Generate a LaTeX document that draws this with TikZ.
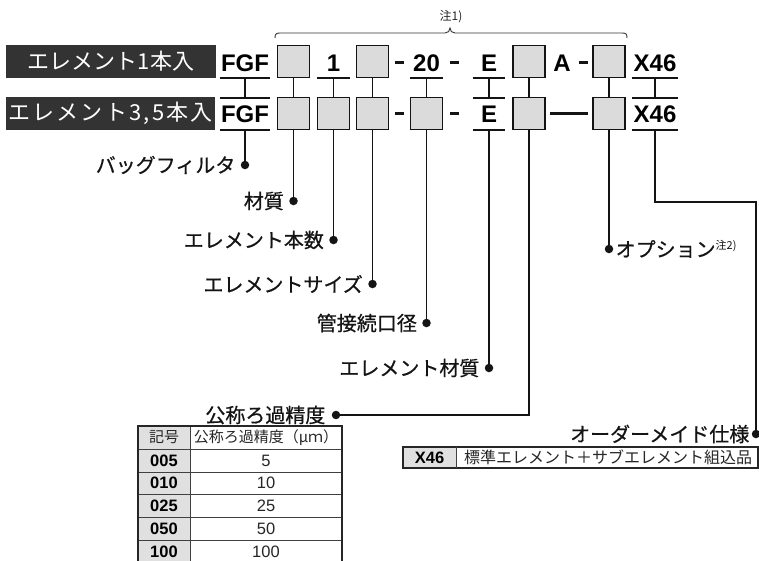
\documentclass[tikz,border=0pt]{standalone}
\usepackage{fontspec}
\setmainfont{Liberation Sans}
\newfontfamily\jp{Noto Sans CJK JP}
\newfontfamily\jpm{Noto Sans CJK JP}[FakeBold=0.6]
\newfontfamily\jpwide{Noto Sans CJK JP}[LetterSpace=10]
\begin{document}
\begin{tikzpicture}[x=1pt,y=-1pt,
  conn/.style={line width=1.8pt, draw=black!92},
  boxn/.style={draw=black!92, line width=1.6pt, fill=black!14, minimum width=32pt, minimum height=32pt, inner sep=0pt},
  codeA/.style={font=\fontsize{24}{24}\selectfont\bfseries, inner sep=0pt, minimum height=30pt, text height=17pt, text depth=0pt},
  codeB/.style={font=\fontsize{24}{24}\selectfont\bfseries, inner sep=0pt, minimum height=32pt, text height=17pt, text depth=0pt},
  barn/.style={fill=black!92, minimum width=9pt, minimum height=3pt, inner sep=0pt},
  dotn/.style={circle, fill=black!92, minimum size=8.5pt, inner sep=0pt},
  lbl/.style={font=\jpm\fontsize{20}{20}\selectfont, inner sep=0pt, text=black!92},
  titlen/.style={fill=black!80, text=white, minimum height=33pt, inner sep=0pt},
  tjp/.style={font=\jp\fontsize{15}{15}\selectfont, inner sep=0pt, text=black!85},
  tbold/.style={font=\fontsize{16.5}{16.5}\selectfont\bfseries, inner sep=0pt},
  tval/.style={font=\fontsize{16.5}{16.5}\selectfont, inner sep=0pt, text=black!85},
]
\useasboundingbox (0,0) rectangle (759,560);

% titles
\node[titlen, minimum width=210pt, font=\jp\fontsize{22}{22}\selectfont] (t1) at (111,61.5) {エレメント1本入};
\node[titlen, minimum width=209pt, font=\jpwide\fontsize{22}{22}\selectfont] (t2) at (110.5,113.5) {エレメント3,5本入};

% brace
\draw[line width=0.9pt, black!80] (275,38) .. controls (275,34) and (276,33) .. (280,33) -- (445,33)
  .. controls (448,33) and (450,31) .. (450,28) .. controls (450,31) and (452,33) .. (455,33) -- (622,33)
  .. controls (626,33) and (627,34) .. (627,38);
\node[font=\jp\fontsize{12}{12}\selectfont, inner sep=0pt, text=black!85] (note1) at (451,17) {注1)};

% row 1
\node[codeA, minimum width=50pt] (fgf1) at (245,63) {FGF};
\node[boxn] (b1a) at (293.5,61.5) {};
\node[codeA, minimum width=32pt] (n1) at (333.5,63) {1};
\node[boxn] (b3a) at (372.5,61.5) {};
\node[barn] (d1) at (399,62) {};
\node[codeA, minimum width=32pt] (n20) at (426.5,63) {20};
\node[barn] (d2) at (454,62) {};
\node[codeA, minimum width=32pt] (e1) at (489,63) {E};
\node[boxn] (b5a) at (529,61.5) {};
\node[codeA] (nA) at (562,63) {A};
\node[barn] (d3) at (583,62) {};
\node[boxn] (b6a) at (609,61.5) {};
\node[codeA, minimum width=46pt] (x1) at (655,63) {X46};

% row 2
\node[codeB, minimum width=50pt] (fgf2) at (245,114) {FGF};
\node[boxn] (b1b) at (293.5,113.5) {};
\node[boxn] (b2b) at (333.5,113.5) {};
\node[boxn] (b3b) at (372.5,113.5) {};
\node[barn] (d4) at (399.5,113.5) {};
\node[boxn] (b4b) at (426.5,113.5) {};
\node[barn] (d5) at (454,113.5) {};
\node[codeB, minimum width=32pt] (e2) at (489,114) {E};
\node[boxn] (b5b) at (529,113.5) {};
\node[boxn] (b6b) at (609,113.5) {};
\node[codeB, minimum width=46pt] (x2) at (655,114) {X46};

% underlines / overlines
\foreach \n in {fgf1,n1,n20,e1,x1}{\draw[conn] (\n.south west) -- (\n.south east);}
\foreach \n in {fgf2,e2,x2}{\draw[conn] (\n.north west) -- (\n.north east); \draw[conn] (\n.south west) -- (\n.south east);}
\draw[line width=3pt, black!92, shorten <=4pt, shorten >=4pt] (b5b.east) -- (b6b.west);

% row1 -> row2
\draw[conn] (fgf1.south) -- (fgf2.north);
\draw[conn] (b1a.south) -- (b1b.north);
\draw[conn] (n1.south) -- (b2b.north);
\draw[conn] (b3a.south) -- (b3b.north);
\draw[conn] (n20.south) -- (b4b.north);
\draw[conn] (e1.south) -- (e2.north);
\draw[conn] (b5a.south) -- (b5b.north);
\draw[conn] (b6a.south) -- (b6b.north);
\draw[conn] (x1.south) -- (x2.north);

% dots
\node[dotn] (dF) at (245,165) {};
\node[dotn] (dM) at (293.5,201) {};
\node[dotn] (dN) at (333.5,240) {};
\node[dotn] (dS) at (372.5,284) {};
\node[dotn] (dP) at (426.5,323) {};
\node[dotn] (dE) at (489,368) {};
\node[dotn] (dA) at (336,415) {};
\node[dotn] (dO) at (609,249) {};
\node[dotn] (dX) at (756,434) {};
\coordinate (cX) at (756,202);

\draw[conn] (fgf2.south) -- (dF);
\draw[conn] (b1b.south) -- (dM);
\draw[conn] (b2b.south) -- (dN);
\draw[conn] (b3b.south) -- (dS);
\draw[conn] (b4b.south) -- (dP);
\draw[conn] (e2.south) -- (dE);
\draw[conn] (b5b.south) |- (dA);
\draw[conn] (b6b.south) -- (dO);
\draw[conn] (x2.south) |- (cX) -- (dX);

% labels
\node[lbl, anchor=east] (lF) at ([xshift=-5pt]dF.west) {バッグフィルタ};
\node[lbl, anchor=east] (lM) at ([xshift=-5pt]dM.west) {材質};
\node[lbl, anchor=east] (lN) at ([xshift=-5pt]dN.west) {エレメント本数};
\node[lbl, anchor=east] (lS) at ([xshift=-5pt]dS.west) {エレメントサイズ};
\node[lbl, anchor=east] (lP) at ([xshift=-5pt]dP.west) {管接続口径};
\node[lbl, anchor=east] (lE) at ([xshift=-5pt]dE.west) {エレメント材質};
\node[lbl, anchor=east] (lA) at ([xshift=-6pt]dA.west) {公称ろ過精度};
\node[lbl, anchor=west] (lO) at ([xshift=2pt]dO.east) {オプション\raisebox{7pt}{\jp\fontsize{11}{11}\selectfont 注2)}};
\node[lbl, anchor=east] (lX) at ([xshift=-2pt]dX.west) {オーダーメイド仕様};

% table 1
\fill[black!12] (138,426) rectangle (190,563);
\foreach \yy in {449,472,494.5,517.5,540.5}{\draw[line width=0.8pt, black!75] (138,\yy) -- (342,\yy);}
\draw[line width=0.8pt, black!75] (190,426) -- (190,563);
\draw[line width=1.4pt, black!85] (138,563) -- (138,426) -- (342,426) -- (342,563);
\node[tjp] (h1) at (164,437.5) {記号};
\node[tjp] (h2) at (266,437.5) {公称ろ過精度（μｍ）};
\foreach \c/\v/\yy [count=\i] in {005/5/460.5,010/10/483.25,025/25/506,050/50/529,100/100/552}{
  \node[tbold] (c\i) at (164,\yy) {\c};
  \node[tval] (v\i) at (266,\yy) {\v};
}

% table 2
\fill[black!12] (403,447) rectangle (456,468);
\draw[line width=1.2pt, black!85] (403,447) rectangle (758,468);
\draw[line width=0.8pt, black!75] (456,447) -- (456,468);
\node[tbold] (xk) at (429.5,457.5) {X46};
\node[tjp, font=\jp\fontsize{16}{16}\selectfont, anchor=west] (xv) at (464,457.5) {標準エレメント＋サブエレメント組込品};
\end{tikzpicture}
\end{document}
